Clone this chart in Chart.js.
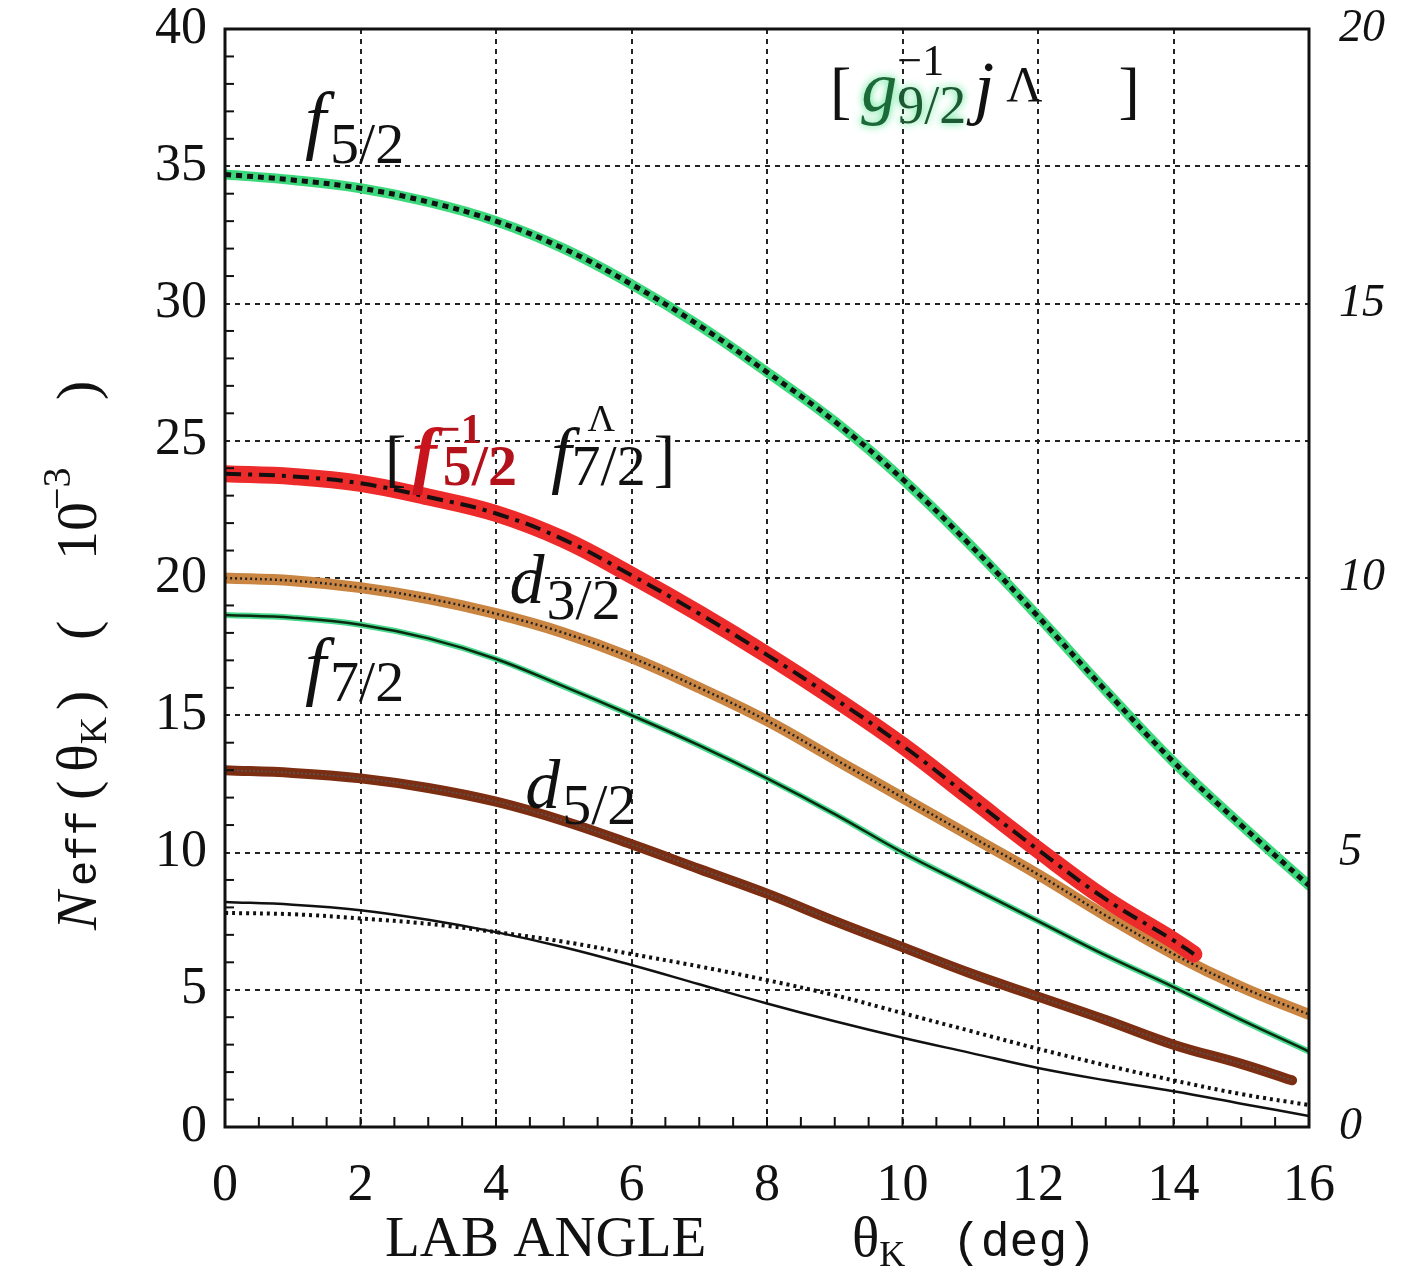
<!DOCTYPE html>
<html>
<head>
<meta charset="utf-8">
<script src="https://cdn.jsdelivr.net/npm/chart.js@4.4.1/dist/chart.umd.min.js"></script>
<style>
  html, body { margin: 0; padding: 0; background: #fff; }
  canvas { display: block; }
</style>
</head>
<body>
<canvas id="chart" width="1403" height="1281"></canvas>
<script>
const angle = [0, 1, 2, 3, 4, 5, 6, 7, 8, 9, 10, 11, 12, 13, 14, 15, 16];
const angleRed = [0, 1, 2, 3, 4, 5, 6, 7, 8, 9, 10, 11, 12, 13, 14, 14.3];
const angleD52 = [0, 1, 2, 3, 4, 5, 6, 7, 8, 9, 10, 11, 12, 13, 14, 15, 15.75];

// N_eff in 10^-3
const g92 = [34.7, 34.5, 34.2, 33.7, 33.0, 32.0, 30.7, 29.2, 27.5, 25.7, 23.6, 21.2, 18.6, 15.9, 13.3, 11.0, 8.8];
const f52f72 = [23.8, 23.7, 23.45, 22.95, 22.35, 21.4, 20.1, 18.7, 17.2, 15.6, 13.9, 12.0, 10.1, 8.3, 6.8, 6.3];
const d32 = [20.0, 19.9, 19.65, 19.25, 18.7, 18.0, 17.1, 16.0, 14.8, 13.4, 12.0, 10.6, 9.2, 7.7, 6.3, 5.1, 4.1];
const f72 = [18.65, 18.55, 18.3, 17.8, 17.05, 16.05, 15.0, 13.9, 12.7, 11.4, 10.0, 8.75, 7.5, 6.25, 5.1, 3.9, 2.75];
const d52 = [13.0, 12.9, 12.7, 12.35, 11.85, 11.15, 10.3, 9.4, 8.5, 7.5, 6.55, 5.6, 4.75, 3.9, 3.0, 2.3, 1.7];
const lowSolid = [8.2, 8.1, 7.9, 7.55, 7.1, 6.55, 5.9, 5.2, 4.5, 3.85, 3.25, 2.7, 2.15, 1.7, 1.3, 0.85, 0.4];
const lowDotted = [7.8, 7.75, 7.6, 7.4, 7.1, 6.75, 6.3, 5.85, 5.35, 4.8, 4.15, 3.5, 2.85, 2.25, 1.7, 1.2, 0.8];

const leftTicks = [0, 5, 10, 15, 20, 25, 30, 35, 40];
const rightTicks = [0, 5, 10, 15, 20];

const SERIF = '"Liberation Serif", "DejaVu Serif", serif';
const MONO = '"Liberation Mono", "DejaVu Sans Mono", monospace';

function pts(xs, ys) {
  return ys.map((y, i) => ({ x: xs[i], y }));
}

function line(xs, ys, color, width, dash) {
  return {
    data: pts(xs, ys),
    borderColor: color,
    borderWidth: width,
    borderDash: dash || [],
    pointRadius: 0,
    fill: false,
    tension: 0.4,
    borderCapStyle: dash ? "butt" : "round",
  };
}

// chart.js paints the first dataset last, so the black curves go first
const datasets = [
  line(angle, g92, "#111", 5, [6, 5]),
  line(angleRed, f52f72, "#151010", 4, [16, 7, 4, 7]),
  line(angle, d32, "#222", 2.5, [2, 3]),
  line(angle, f72, "#0c2a12", 2.5),
  line(angleD52, d52, "#555", 1.5, [2, 2]),
  line(angle, lowSolid, "#111", 2.5),
  line(angle, lowDotted, "#111", 4, [3, 4]),

  line(angle, g92, "#3bd97c", 10),
  line(angleRed, f52f72, "#ee2b2b", 17),
  line(angle, d32, "#c98541", 11),
  line(angle, f72, "#47d98c", 6),
  line(angleD52, d52, "#7c2e12", 10),
];

// rich text: parts drawn left to right
function drawRich(ctx, x, y, parts) {
  let cx = x;
  parts.forEach(p => {
    ctx.save();
    ctx.font = p.font;
    ctx.fillStyle = p.color || "#111";
    if (p.glow) {
      ctx.shadowColor = p.glow;
      ctx.shadowBlur = 8;
    }
    const px = p.at !== undefined ? x + p.at : cx + (p.dx || 0);
    ctx.fillText(p.t, px, y + (p.dy || 0));
    const w = ctx.measureText(p.t).width;
    ctx.restore();
    if (!p.stay) cx = px + w;
  });
}

const it = s => `italic ${s}px ${SERIF}`;
const rm = s => `${s}px ${SERIF}`;
const bd = s => `bold ${s}px ${SERIF}`;
const bi = s => `italic bold ${s}px ${SERIF}`;

const labels = [
  { x: 1.18, y: 35.76, parts: [{ t: "f", font: it(76) }, { t: "5/2", font: rm(58), dy: 18, dx: 4 }] },
  { x: 1.18, y: 15.9, parts: [{ t: "f", font: it(76) }, { t: "7/2", font: rm(58), dy: 10, dx: 4 }] },
  { x: 4.2, y: 19.1, parts: [{ t: "d", font: it(70) }, { t: "3/2", font: rm(58), dy: 16, dx: 2 }] },
  { x: 4.43, y: 11.62, parts: [{ t: "d", font: it(70) }, { t: "5/2", font: rm(58), dy: 16, dx: 2 }] },
  {
    x: 2.36, y: 23.6, parts: [
      { t: "[", font: rm(64) },
      { t: "f", font: bi(74), color: "#c8141c", dx: 6 },
      { t: "\u22121", font: bd(42), color: "#b3121a", dy: -36, stay: true },
      { t: "5/2", font: bd(58), color: "#b3121a", dy: 6, dx: 6 },
      { t: "f", font: it(74), dx: 34 },
      { t: "\u039b", font: rm(38), dy: -48, dx: 16, stay: true },
      { t: "7/2", font: rm(58), dy: 6 },
      { t: "]", font: rm(64), dx: 8 },
    ]
  },
  {
    x: 8.93, y: 37.0, parts: [
      { t: "[", font: rm(64) },
      { t: "g", font: it(72), color: "#1d6a39", glow: "#3fe080", dx: 10 },
      { t: "\u22121", font: rm(44), dy: -36, stay: true },
      { t: "9/2", font: rm(54), dy: 12, color: "#1d5a33", glow: "#3fe080" },
      { t: "j", font: it(72), dx: 8 },
      { t: "\u039b", font: rm(50), dy: -10, dx: 12 },
      { t: "]", font: rm(64), dx: 76 },
    ]
  },
];

const decor = {
  id: "decor",
  afterDatasetsDraw(chart) {
    const { ctx, chartArea: a, scales } = chart;
    const xs = scales.x, ys = scales.y;

    // minor ticks, inside the frame
    ctx.save();
    ctx.strokeStyle = "#111";
    ctx.lineWidth = 2;
    for (let v = 1; v < 40; v++) {
      if (v % 5 === 0) continue;
      const py = ys.getPixelForValue(v);
      ctx.beginPath();
      ctx.moveTo(a.left, py);
      ctx.lineTo(a.left + 9, py);
      ctx.stroke();
    }
    for (let v = 0.5; v < 16; v += 0.5) {
      const px = xs.getPixelForValue(v);
      ctx.beginPath();
      ctx.moveTo(px, a.bottom);
      ctx.lineTo(px, a.bottom - 10);
      ctx.stroke();
    }
    // frame
    ctx.lineWidth = 3;
    ctx.strokeRect(a.left, a.top, a.right - a.left, a.bottom - a.top);
    ctx.restore();

    // curve labels
    ctx.save();
    ctx.textBaseline = "alphabetic";
    labels.forEach(l => {
      drawRich(ctx, xs.getPixelForValue(l.x), ys.getPixelForValue(l.y), l.parts);
    });
    ctx.restore();

    // x title
    ctx.save();
    ctx.fillStyle = "#111";
    ctx.font = rm(57);
    ctx.fillText("LAB ANGLE", 385, 1256);
    drawRich(ctx, 852, 1256, [{ t: "\u03b8", font: rm(57) }, { t: "K", font: rm(36), dy: 10 }]);
    ctx.font = `48px ${MONO}`;
    ctx.fillText("(deg)", 952, 1256);
    ctx.restore();

    // y title, rotated (offsets run upward from the bottom end)
    ctx.save();
    ctx.translate(96, 932);
    ctx.rotate(-Math.PI / 2);
    drawRich(ctx, 0, 0, [
      { t: "N", font: it(58), at: 2 },
      { t: "eff", font: `42px ${MONO}`, at: 46 },
      { t: "(", font: rm(58), at: 132 },
      { t: "\u03b8", font: rm(58), at: 160 },
      { t: "K", font: rm(38), dy: 10 },
      { t: ")", font: rm(58), at: 222 },
      { t: "(", font: rm(58), at: 292 },
      { t: "10", font: rm(58), at: 372 },
      { t: "\u22123", font: rm(40), dy: -26, at: 422 },
      { t: ")", font: rm(58), at: 532 },
    ]);
    ctx.restore();
  }
};

// keep the tick labels from pushing the plot frame inwards
function noPad(s) {
  s.paddingTop = 0;
  s.paddingBottom = 0;
}

new Chart(document.getElementById("chart").getContext("2d"), {
  type: "line",
  data: { datasets },
  options: {
    responsive: false,
    animation: false,
    layout: { padding: { top: 29, left: 0, right: 0, bottom: 0 } },
    plugins: { legend: { display: false }, tooltip: { enabled: false } },
    scales: {
      x: {
        type: "linear",
        min: 0, max: 16,
        ticks: { stepSize: 2, autoSkip: false, padding: 28, color: "#111", font: { family: SERIF, size: 52 } },
        grid: { color: "#222", lineWidth: 2, drawTicks: false },
        border: { display: false, dash: [5, 5] },
        afterFit(s) { s.height = 154; s.paddingLeft = 0; s.paddingRight = 0; },
      },
      y: {
        position: "left",
        min: 0, max: 40,
        afterBuildTicks(s) { s.ticks = leftTicks.map(v => ({ value: v })); },
        ticks: { autoSkip: false, padding: 18, color: "#111", font: { family: SERIF, size: 52 } },
        grid: { color: "#222", lineWidth: 2, drawTicks: false },
        border: { display: false, dash: [5, 5] },
        afterFit(s) { s.width = 225; noPad(s); },
      },
      y2: {
        position: "right",
        min: 0, max: 20,
        afterBuildTicks(s) { s.ticks = rightTicks.map(v => ({ value: v })); },
        ticks: { autoSkip: false, padding: 30, color: "#111", font: { family: SERIF, size: 46, style: "italic" } },
        grid: { display: false, drawTicks: false },
        border: { display: false },
        afterFit(s) { s.width = 94; noPad(s); },
      },
    },
  },
  plugins: [decor],
});
</script>
</body>
</html>
